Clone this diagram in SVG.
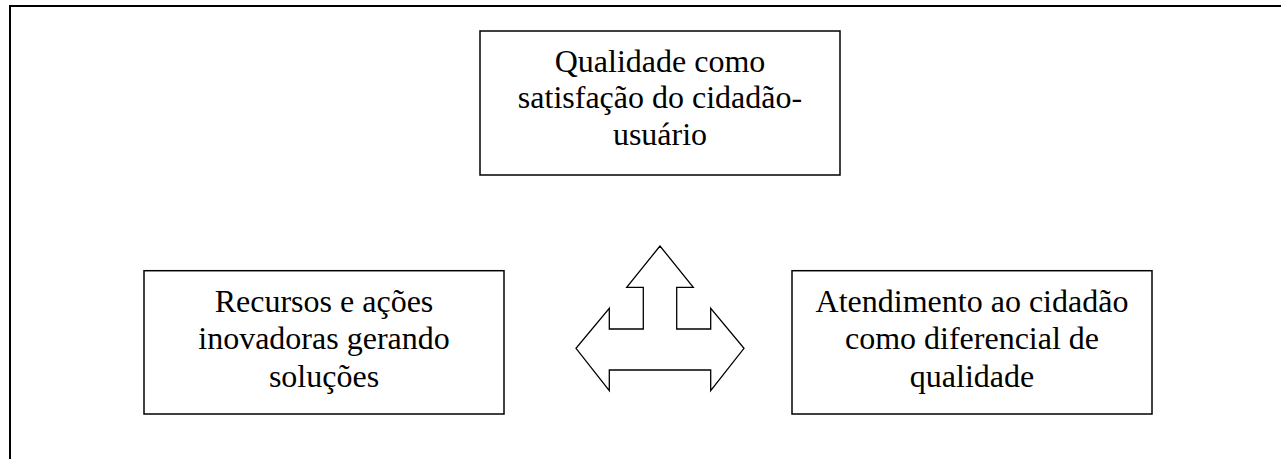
<svg xmlns="http://www.w3.org/2000/svg" width="1281" height="459" viewBox="0 0 1281 459">
<style>
.box{fill:#fff;stroke:#000;stroke-width:1.5}
.t{font-family:"Liberation Serif","Times New Roman",serif;font-size:32px;fill:#000;text-anchor:middle}
.frame{fill:none;stroke:#000;stroke-width:2}
</style>
<rect width="1281" height="459" fill="#fff"/>
<path class="frame" d="M10,470 V6 H1290"/>
<g id="node-top">
<rect class="box" x="480" y="31" width="360" height="144"/>
<text class="t" x="660" y="71.7">Qualidade como</text>
<text class="t" x="660" y="108.4">satisfação do cidadão-</text>
<text class="t" x="660" y="145">usuário</text>
</g>
<g id="node-left">
<rect class="box" x="144" y="270.7" width="360" height="143.3"/>
<text class="t" x="324" y="311.7">Recursos e ações</text>
<text class="t" x="324" y="349.3">inovadoras gerando</text>
<text class="t" x="324" y="386.8">soluções</text>
</g>
<g id="node-right">
<rect class="box" x="792" y="270.7" width="360" height="143.3"/>
<text class="t" x="972" y="311.7">Atendimento ao cidadão</text>
<text class="t" x="972" y="349.3">como diferencial de</text>
<text class="t" x="972" y="386.8">qualidade</text>
</g>
<g id="connectors">
<path fill="#fff" stroke="#000" stroke-width="1.3" stroke-linejoin="miter" d="M660,246 L626.7,287.3 L643.3,287.3 L643.3,329 L609.3,329 L609.3,308.3 L576,348.3 L609.3,390.7 L609.3,370 L710.7,370 L710.7,390.7 L744,348.3 L710.7,308.3 L710.7,329 L676.7,329 L676.7,287.3 L693.3,287.3 Z"/>
</g>
</svg>
